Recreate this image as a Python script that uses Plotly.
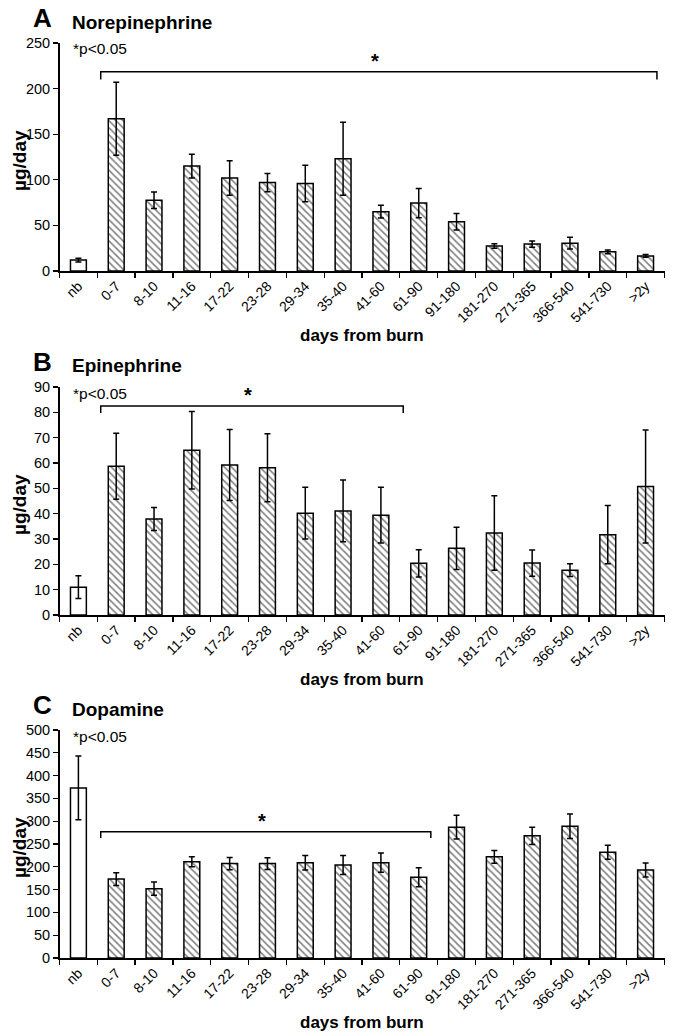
import plotly.graph_objects as go
from plotly.subplots import make_subplots

# ---------------- data ----------------
categories = ["nb", "0-7", "8-10", "11-16", "17-22", "23-28", "29-34", "35-40",
              "41-60", "61-90", "91-180", "181-270", "271-365", "366-540", "541-730", ">2y"]

ne_mean = [12, 167, 77.5, 115, 102, 97, 96, 123, 65, 74.5, 54, 27.5, 29.5, 30.5, 21, 16.5]
ne_err = [2, 40, 9, 13, 19, 10, 20, 40, 7, 16, 9, 2.5, 3.5, 6.5, 2, 1.5]

epi_mean = [11, 58.7, 37.9, 65, 59.2, 58.1, 40.2, 41.1, 39.4, 20.4, 26.3, 32.4, 20.5, 17.7, 31.7, 50.7]
epi_err = [4.5, 13, 4.5, 15.3, 14, 13.4, 10.2, 12.2, 11, 5.4, 8.3, 14.7, 5.2, 2.5, 11.5, 22.3]

dopa_mean = [373, 173, 152, 211, 207, 207, 209, 204, 209, 177, 287, 222, 268, 289, 232, 193]
dopa_err = [70, 14, 14.5, 11, 13.5, 13, 16, 21, 21, 21, 26, 14, 19, 27, 15.5, 15.5]

panel_letters = ["A", "B", "C"]
panel_titles = ["Norepinephrine", "Epinephrine", "Dopamine"]
y_ranges = [[0, 250], [0, 90], [0, 500]]
y_dticks = [50, 10, 50]

# significance brackets: (start index, end index, line value, tick-end value)
bracket_start = [0.59, 0.59, 0.59]
bracket_end = [15.30, 8.59, 9.32]
bracket_level = [218.5, 82.5, 277]
bracket_foot = [210, 79.7, 263]
sig_note = "*p<0.05"
x_title = "days from burn"
y_title = "µg/day"

# ---------------- layout geometry (pixels) ----------------
W, H = 673, 1032
x_left, x_right = 59.5, 664.5
panel_bottom = [271, 615, 958]   # pixel y of value 0
panel_top = [43, 387, 730]       # pixel y of top of range


def fx(px):
    return px / W


def fy(py):
    return 1 - py / H


FONT = "Liberation Sans, Arial, sans-serif"

fig = make_subplots(rows=3, cols=1)

series = [(ne_mean, ne_err), (epi_mean, epi_err), (dopa_mean, dopa_err)]
shapes_pattern = ["" if c == "nb" else "\\" for c in categories]

annotations = []
shapes = []
for i, (m, e) in enumerate(series):
    r = i + 1
    fig.add_trace(go.Bar(
        x=categories, y=m,
        width=0.42,
        marker=dict(color="white",
                    line=dict(color="black", width=1.5),
                    pattern=dict(shape=shapes_pattern, fgcolor="black", bgcolor="white",
                                 size=5, solidity=0.32)),
        error_y=dict(type="data", array=e, visible=True, color="black",
                     thickness=1.5, width=3),
        showlegend=False,
    ), row=r, col=1)

    xa = "xaxis" if i == 0 else f"xaxis{r}"
    ya = "yaxis" if i == 0 else f"yaxis{r}"
    fig.layout[xa].update(
        domain=[fx(x_left), fx(x_right)],
        type="category", range=[-0.5, 15.5],
        showline=True, linecolor="black", linewidth=1.5,
        ticks="outside", ticklen=5, tickwidth=1.3, tickcolor="black",
        tickson="boundaries", tickangle=-45,
        tickfont=dict(family=FONT, size=14, color="black"),
        showgrid=False, zeroline=False, automargin=False, fixedrange=True,
    )
    fig.layout[ya].update(
        domain=[fy(panel_bottom[i]), fy(panel_top[i])],
        range=y_ranges[i], dtick=y_dticks[i], tick0=0,
        showline=True, linecolor="black", linewidth=1.5,
        ticks="outside", ticklen=5, tickwidth=1.3, tickcolor="black",
        tickfont=dict(family=FONT, size=14.5, color="black"),
        showgrid=False, zeroline=False, automargin=False, fixedrange=True,
    )

    xref = "x" if i == 0 else f"x{r}"
    yref = "y" if i == 0 else f"y{r}"
    # bracket
    x0, x1 = bracket_start[i], bracket_end[i]
    yl, yf = bracket_level[i], bracket_foot[i]
    shapes.append(dict(type="path", xref=xref, yref=yref,
                       path=f"M {x0},{yf} L {x0},{yl} L {x1},{yl} L {x1},{yf}",
                       line=dict(color="black", width=1.5)))
    annotations.append(dict(xref=xref, yref=yref, x=(x0 + x1) / 2 - 0.1, y=yl,
                            text="<b>*</b>", showarrow=False, yanchor="middle",
                            yshift=11, font=dict(family=FONT, size=20, color="black")))

    top = panel_top[i]
    bot = panel_bottom[i]
    # panel letter and title
    annotations.append(dict(xref="paper", yref="paper", x=fx(31), y=fy(top - 25),
                            text=f"<b>{panel_letters[i]}</b>", showarrow=False,
                            xanchor="left", yanchor="middle",
                            font=dict(family=FONT, size=26, color="black")))
    annotations.append(dict(xref="paper", yref="paper", x=fx(70), y=fy(top - 21),
                            text=f"<b>{panel_titles[i]}</b>", showarrow=False,
                            xanchor="left", yanchor="middle",
                            font=dict(family=FONT, size=19, color="black")))
    # p note
    annotations.append(dict(xref="paper", yref="paper", x=fx(71), y=fy(top + 6),
                            text=sig_note, showarrow=False,
                            xanchor="left", yanchor="middle",
                            font=dict(family=FONT, size=15.5, color="black")))
    # axis titles
    annotations.append(dict(xref="paper", yref="paper", x=fx((x_left + x_right) / 2),
                            y=fy(bot + 64), text=f"<b>{x_title}</b>", showarrow=False,
                            xanchor="center", yanchor="middle",
                            font=dict(family=FONT, size=17, color="black")))
    annotations.append(dict(xref="paper", yref="paper", x=fx(19), y=fy(bot - 110),
                            text=f"<b>{y_title}</b>", showarrow=False, textangle=-90,
                            xanchor="center", yanchor="middle",
                            font=dict(family=FONT, size=19, color="black")))

fig.update_layout(
    width=W, height=H,
    margin=dict(l=0, r=0, t=0, b=0, pad=0),
    paper_bgcolor="white", plot_bgcolor="white",
    bargap=0.58,
    shapes=shapes, annotations=annotations,
    font=dict(family=FONT, color="black"),
)

fig.write_html("out.html", config={"displayModeBar": False, "staticPlot": True},
               post_script="document.body.style.margin='0';")
